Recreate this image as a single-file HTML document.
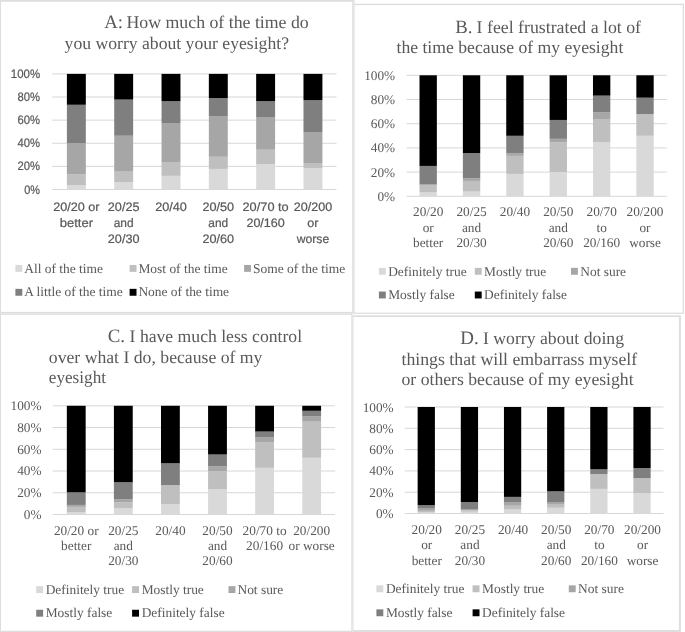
<!DOCTYPE html>
<html><head><meta charset="utf-8"><title>Charts</title>
<style>
html,body{margin:0;padding:0;background:#fff;}
svg{display:block;will-change:transform;}
text{fill:#595959;text-rendering:geometricPrecision;}
.se{font-family:"Liberation Serif", serif;}
.sa{font-family:"Liberation Sans", sans-serif;stroke:#595959;stroke-width:0.22px;}
</style></head><body>
<svg width="685" height="632" viewBox="0 0 685 632">
<rect width="685" height="632" fill="#fff"/>
<g id="A">
<rect x="0" y="0" width="353.40" height="313.40" fill="#DEDEDE"/>
<rect x="1.00" y="1.80" width="351.20" height="310.10" fill="#fff"/>
<text class="se" x="104.2" y="28.3" font-size="18.8">A:</text>
<text class="se" x="126.5" y="28.3" font-size="17.8">How much of the time do</text>
<text class="se" x="64.6" y="48.8" font-size="17.65">you worry about your eyesight?</text>
<line x1="52.3" x2="336.5" y1="73.90" y2="73.90" stroke="#D7D7D7" stroke-width="1"/>
<line x1="52.3" x2="336.5" y1="97.02" y2="97.02" stroke="#D7D7D7" stroke-width="1"/>
<line x1="52.3" x2="336.5" y1="120.14" y2="120.14" stroke="#D7D7D7" stroke-width="1"/>
<line x1="52.3" x2="336.5" y1="143.26" y2="143.26" stroke="#D7D7D7" stroke-width="1"/>
<line x1="52.3" x2="336.5" y1="166.38" y2="166.38" stroke="#D7D7D7" stroke-width="1"/>
<line x1="52.3" x2="336.5" y1="189.50" y2="189.50" stroke="#D7D7D7" stroke-width="1"/>
<rect x="66.89" y="185.22" width="18.93" height="4.28" fill="#D9D9D9"/>
<rect x="66.89" y="174.13" width="18.93" height="11.10" fill="#BFBFBF"/>
<rect x="66.89" y="143.26" width="18.93" height="30.87" fill="#A6A6A6"/>
<rect x="66.89" y="104.77" width="18.93" height="38.49" fill="#7F7F7F"/>
<rect x="66.89" y="73.90" width="18.93" height="30.87" fill="#000000"/>
<rect x="114.21" y="182.10" width="18.93" height="7.40" fill="#D9D9D9"/>
<rect x="114.21" y="171.00" width="18.93" height="11.10" fill="#BFBFBF"/>
<rect x="114.21" y="135.75" width="18.93" height="35.26" fill="#A6A6A6"/>
<rect x="114.21" y="99.56" width="18.93" height="36.18" fill="#7F7F7F"/>
<rect x="114.21" y="73.90" width="18.93" height="25.66" fill="#000000"/>
<rect x="161.53" y="175.86" width="18.93" height="13.64" fill="#D9D9D9"/>
<rect x="161.53" y="162.57" width="18.93" height="13.29" fill="#BFBFBF"/>
<rect x="161.53" y="123.03" width="18.93" height="39.54" fill="#A6A6A6"/>
<rect x="161.53" y="101.18" width="18.93" height="21.85" fill="#7F7F7F"/>
<rect x="161.53" y="73.90" width="18.93" height="27.28" fill="#000000"/>
<rect x="208.84" y="168.92" width="18.93" height="20.58" fill="#D9D9D9"/>
<rect x="208.84" y="156.79" width="18.93" height="12.14" fill="#BFBFBF"/>
<rect x="208.84" y="116.09" width="18.93" height="40.69" fill="#A6A6A6"/>
<rect x="208.84" y="98.06" width="18.93" height="18.03" fill="#7F7F7F"/>
<rect x="208.84" y="73.90" width="18.93" height="24.16" fill="#000000"/>
<rect x="256.16" y="164.18" width="18.93" height="25.32" fill="#D9D9D9"/>
<rect x="256.16" y="149.73" width="18.93" height="14.45" fill="#BFBFBF"/>
<rect x="256.16" y="117.02" width="18.93" height="32.71" fill="#A6A6A6"/>
<rect x="256.16" y="101.18" width="18.93" height="15.84" fill="#7F7F7F"/>
<rect x="256.16" y="73.90" width="18.93" height="27.28" fill="#000000"/>
<rect x="303.48" y="168.11" width="18.93" height="21.39" fill="#D9D9D9"/>
<rect x="303.48" y="163.03" width="18.93" height="5.09" fill="#BFBFBF"/>
<rect x="303.48" y="132.51" width="18.93" height="30.52" fill="#A6A6A6"/>
<rect x="303.48" y="100.14" width="18.93" height="32.37" fill="#7F7F7F"/>
<rect x="303.48" y="73.90" width="18.93" height="26.24" fill="#000000"/>
<text class="sa" x="40.1" y="77.90" font-size="12.3" text-anchor="end" textLength="29.31" lengthAdjust="spacingAndGlyphs">100%</text>
<text class="sa" x="40.1" y="101.02" font-size="12.3" text-anchor="end" textLength="22.55" lengthAdjust="spacingAndGlyphs">80%</text>
<text class="sa" x="40.1" y="124.14" font-size="12.3" text-anchor="end" textLength="22.55" lengthAdjust="spacingAndGlyphs">60%</text>
<text class="sa" x="40.1" y="147.26" font-size="12.3" text-anchor="end" textLength="22.55" lengthAdjust="spacingAndGlyphs">40%</text>
<text class="sa" x="40.1" y="170.38" font-size="12.3" text-anchor="end" textLength="22.55" lengthAdjust="spacingAndGlyphs">20%</text>
<text class="sa" x="40.1" y="193.50" font-size="12.3" text-anchor="end" textLength="15.79" lengthAdjust="spacingAndGlyphs">0%</text>
<text class="sa" x="76.36" y="210.70" font-size="12.3" text-anchor="middle" textLength="46.37" lengthAdjust="spacingAndGlyphs">20/20 or</text>
<text class="sa" x="76.36" y="226.80" font-size="12.3" text-anchor="middle" textLength="33.36" lengthAdjust="spacingAndGlyphs">better</text>
<text class="sa" x="123.68" y="210.70" font-size="12.3" text-anchor="middle" textLength="31.68" lengthAdjust="spacingAndGlyphs">20/25</text>
<text class="sa" x="123.68" y="226.80" font-size="12.3" text-anchor="middle" textLength="19.88" lengthAdjust="spacingAndGlyphs">and</text>
<text class="sa" x="123.68" y="242.90" font-size="12.3" text-anchor="middle" textLength="31.68" lengthAdjust="spacingAndGlyphs">20/30</text>
<text class="sa" x="170.99" y="210.70" font-size="12.3" text-anchor="middle" textLength="31.68" lengthAdjust="spacingAndGlyphs">20/40</text>
<text class="sa" x="218.31" y="210.70" font-size="12.3" text-anchor="middle" textLength="31.68" lengthAdjust="spacingAndGlyphs">20/50</text>
<text class="sa" x="218.31" y="226.80" font-size="12.3" text-anchor="middle" textLength="19.88" lengthAdjust="spacingAndGlyphs">and</text>
<text class="sa" x="218.31" y="242.90" font-size="12.3" text-anchor="middle" textLength="31.68" lengthAdjust="spacingAndGlyphs">20/60</text>
<text class="sa" x="265.62" y="210.70" font-size="12.3" text-anchor="middle" textLength="46.18" lengthAdjust="spacingAndGlyphs">20/70 to</text>
<text class="sa" x="265.62" y="226.80" font-size="12.3" text-anchor="middle" textLength="38.44" lengthAdjust="spacingAndGlyphs">20/160</text>
<text class="sa" x="312.94" y="210.70" font-size="12.3" text-anchor="middle" textLength="38.44" lengthAdjust="spacingAndGlyphs">20/200</text>
<text class="sa" x="312.94" y="226.80" font-size="12.3" text-anchor="middle" textLength="11.18" lengthAdjust="spacingAndGlyphs">or</text>
<text class="sa" x="312.94" y="242.90" font-size="12.3" text-anchor="middle" textLength="32.56" lengthAdjust="spacingAndGlyphs">worse</text>
<rect x="15.40" y="264.95" width="6.90" height="6.90" fill="#D9D9D9"/>
<text class="se" x="24.2" y="272.6" font-size="13.45">All of the time</text>
<rect x="129.60" y="264.95" width="6.90" height="6.90" fill="#BFBFBF"/>
<text class="se" x="138.4" y="272.6" font-size="13.45">Most of the time</text>
<rect x="244.10" y="264.95" width="6.90" height="6.90" fill="#A6A6A6"/>
<text class="se" x="253.0" y="272.6" font-size="13.45">Some of the time</text>
<rect x="15.40" y="288.85" width="6.90" height="6.90" fill="#7F7F7F"/>
<text class="se" x="24.2" y="296.4" font-size="13.45">A little of the time</text>
<rect x="129.60" y="288.85" width="6.90" height="6.90" fill="#000000"/>
<text class="se" x="138.4" y="296.4" font-size="13.45">None of the time</text>
</g>
<g id="C">
<rect x="0" y="313.4" width="352.50" height="318.60" fill="#DEDEDE"/>
<rect x="1.00" y="314.80" width="350.30" height="315.90" fill="#fff"/>
<text class="se" x="107.7" y="342.1" font-size="18.9">C.</text>
<text class="se" x="129.6" y="342.1" font-size="17.65">I have much less control</text>
<text class="se" x="48.8" y="362.9" font-size="17.7">over what I do, because of my</text>
<text class="se" x="48.8" y="383.2" font-size="17.65" textLength="57.2" lengthAdjust="spacingAndGlyphs">eyesight</text>
<line x1="52.7" x2="335.2" y1="405.80" y2="405.80" stroke="#D7D7D7" stroke-width="1"/>
<line x1="52.7" x2="335.2" y1="427.54" y2="427.54" stroke="#D7D7D7" stroke-width="1"/>
<line x1="52.7" x2="335.2" y1="449.28" y2="449.28" stroke="#D7D7D7" stroke-width="1"/>
<line x1="52.7" x2="335.2" y1="471.02" y2="471.02" stroke="#D7D7D7" stroke-width="1"/>
<line x1="52.7" x2="335.2" y1="492.76" y2="492.76" stroke="#D7D7D7" stroke-width="1"/>
<line x1="52.7" x2="335.2" y1="514.50" y2="514.50" stroke="#D7D7D7" stroke-width="1"/>
<rect x="66.83" y="512.00" width="18.83" height="2.50" fill="#D9D9D9"/>
<rect x="66.83" y="506.89" width="18.83" height="5.11" fill="#BFBFBF"/>
<rect x="66.83" y="504.93" width="18.83" height="1.96" fill="#A6A6A6"/>
<rect x="66.83" y="492.33" width="18.83" height="12.61" fill="#7F7F7F"/>
<rect x="66.83" y="405.80" width="18.83" height="86.53" fill="#000000"/>
<rect x="113.91" y="508.41" width="18.83" height="6.09" fill="#D9D9D9"/>
<rect x="113.91" y="502.43" width="18.83" height="5.98" fill="#BFBFBF"/>
<rect x="113.91" y="499.39" width="18.83" height="3.04" fill="#A6A6A6"/>
<rect x="113.91" y="482.22" width="18.83" height="17.17" fill="#7F7F7F"/>
<rect x="113.91" y="405.80" width="18.83" height="76.42" fill="#000000"/>
<rect x="160.99" y="504.39" width="18.83" height="10.11" fill="#D9D9D9"/>
<rect x="160.99" y="485.15" width="18.83" height="19.24" fill="#BFBFBF"/>
<rect x="160.99" y="463.30" width="18.83" height="21.85" fill="#7F7F7F"/>
<rect x="160.99" y="405.80" width="18.83" height="57.50" fill="#000000"/>
<rect x="208.08" y="489.28" width="18.83" height="25.22" fill="#D9D9D9"/>
<rect x="208.08" y="471.13" width="18.83" height="18.15" fill="#BFBFBF"/>
<rect x="208.08" y="466.13" width="18.83" height="5.00" fill="#A6A6A6"/>
<rect x="208.08" y="454.50" width="18.83" height="11.63" fill="#7F7F7F"/>
<rect x="208.08" y="405.80" width="18.83" height="48.70" fill="#000000"/>
<rect x="255.16" y="467.87" width="18.83" height="46.63" fill="#D9D9D9"/>
<rect x="255.16" y="442.11" width="18.83" height="25.76" fill="#BFBFBF"/>
<rect x="255.16" y="437.11" width="18.83" height="5.00" fill="#A6A6A6"/>
<rect x="255.16" y="431.56" width="18.83" height="5.54" fill="#7F7F7F"/>
<rect x="255.16" y="405.80" width="18.83" height="25.76" fill="#000000"/>
<rect x="302.24" y="457.76" width="18.83" height="56.74" fill="#D9D9D9"/>
<rect x="302.24" y="421.67" width="18.83" height="36.09" fill="#BFBFBF"/>
<rect x="302.24" y="416.13" width="18.83" height="5.54" fill="#A6A6A6"/>
<rect x="302.24" y="410.80" width="18.83" height="5.33" fill="#7F7F7F"/>
<rect x="302.24" y="405.80" width="18.83" height="5.00" fill="#000000"/>
<text class="se" x="41.6" y="410.10" font-size="13.3" text-anchor="end">100%</text>
<text class="se" x="41.6" y="431.84" font-size="13.3" text-anchor="end">80%</text>
<text class="se" x="41.6" y="453.58" font-size="13.3" text-anchor="end">60%</text>
<text class="se" x="41.6" y="475.32" font-size="13.3" text-anchor="end">40%</text>
<text class="se" x="41.6" y="497.06" font-size="13.3" text-anchor="end">20%</text>
<text class="se" x="41.6" y="518.80" font-size="13.3" text-anchor="end">0%</text>
<text class="se" x="76.24" y="534.60" font-size="13.3" text-anchor="middle">20/20 or</text>
<text class="se" x="76.24" y="549.90" font-size="13.3" text-anchor="middle">better</text>
<text class="se" x="123.33" y="534.60" font-size="13.3" text-anchor="middle">20/25</text>
<text class="se" x="123.33" y="549.90" font-size="13.3" text-anchor="middle">and</text>
<text class="se" x="123.33" y="565.20" font-size="13.3" text-anchor="middle">20/30</text>
<text class="se" x="170.41" y="534.60" font-size="13.3" text-anchor="middle">20/40</text>
<text class="se" x="217.49" y="534.60" font-size="13.3" text-anchor="middle">20/50</text>
<text class="se" x="217.49" y="549.90" font-size="13.3" text-anchor="middle">and</text>
<text class="se" x="217.49" y="565.20" font-size="13.3" text-anchor="middle">20/60</text>
<text class="se" x="264.57" y="534.60" font-size="13.3" text-anchor="middle">20/70 to</text>
<text class="se" x="264.57" y="549.90" font-size="13.3" text-anchor="middle">20/160</text>
<text class="se" x="311.66" y="534.60" font-size="13.3" text-anchor="middle">20/200</text>
<text class="se" x="311.66" y="549.90" font-size="13.3" text-anchor="middle">or worse</text>
<rect x="36.20" y="586.15" width="6.90" height="6.90" fill="#D9D9D9"/>
<text class="se" x="45.7" y="594.1" font-size="13.4">Definitely true</text>
<rect x="132.10" y="586.15" width="6.90" height="6.90" fill="#BFBFBF"/>
<text class="se" x="141.7" y="594.1" font-size="13.4">Mostly true</text>
<rect x="228.50" y="586.15" width="6.90" height="6.90" fill="#A6A6A6"/>
<text class="se" x="237.5" y="594.1" font-size="13.4">Not sure</text>
<rect x="36.20" y="609.75" width="6.90" height="6.90" fill="#7F7F7F"/>
<text class="se" x="45.7" y="617.4" font-size="13.4">Mostly false</text>
<rect x="132.10" y="609.75" width="6.90" height="6.90" fill="#000000"/>
<text class="se" x="141.7" y="617.4" font-size="13.4">Definitely false</text>
</g>
<g id="B">
<rect x="353.40" y="0.00" width="1.20" height="4.00" fill="#DEDEDE"/>
<rect x="353.4" y="3.7" width="330.60" height="310.20" fill="#DEDEDE"/>
<rect x="354.60" y="5.10" width="328.00" height="307.50" fill="#fff"/>
<text class="se" x="455.3" y="32.7" font-size="18.8">B.</text>
<text class="se" x="476.6" y="32.7" font-size="17.8">I feel frustrated a lot of</text>
<text class="se" x="396.5" y="52.6" font-size="17.65">the time because of my eyesight</text>
<line x1="406.5" x2="666.7" y1="75.30" y2="75.30" stroke="#D7D7D7" stroke-width="1"/>
<line x1="406.5" x2="666.7" y1="99.50" y2="99.50" stroke="#D7D7D7" stroke-width="1"/>
<line x1="406.5" x2="666.7" y1="123.70" y2="123.70" stroke="#D7D7D7" stroke-width="1"/>
<line x1="406.5" x2="666.7" y1="147.90" y2="147.90" stroke="#D7D7D7" stroke-width="1"/>
<line x1="406.5" x2="666.7" y1="172.10" y2="172.10" stroke="#D7D7D7" stroke-width="1"/>
<line x1="406.5" x2="666.7" y1="196.30" y2="196.30" stroke="#D7D7D7" stroke-width="1"/>
<rect x="419.51" y="192.31" width="17.35" height="3.99" fill="#D9D9D9"/>
<rect x="419.51" y="184.81" width="17.35" height="7.50" fill="#BFBFBF"/>
<rect x="419.51" y="184.56" width="17.35" height="0.24" fill="#A6A6A6"/>
<rect x="419.51" y="165.93" width="17.35" height="18.63" fill="#7F7F7F"/>
<rect x="419.51" y="75.30" width="17.35" height="90.63" fill="#000000"/>
<rect x="462.88" y="191.58" width="17.35" height="4.72" fill="#D9D9D9"/>
<rect x="462.88" y="180.93" width="17.35" height="10.65" fill="#BFBFBF"/>
<rect x="462.88" y="178.27" width="17.35" height="2.66" fill="#A6A6A6"/>
<rect x="462.88" y="153.10" width="17.35" height="25.17" fill="#7F7F7F"/>
<rect x="462.88" y="75.30" width="17.35" height="77.80" fill="#000000"/>
<rect x="506.24" y="173.92" width="17.35" height="22.38" fill="#D9D9D9"/>
<rect x="506.24" y="155.89" width="17.35" height="18.03" fill="#BFBFBF"/>
<rect x="506.24" y="153.34" width="17.35" height="2.54" fill="#A6A6A6"/>
<rect x="506.24" y="135.80" width="17.35" height="17.54" fill="#7F7F7F"/>
<rect x="506.24" y="75.30" width="17.35" height="60.50" fill="#000000"/>
<rect x="549.61" y="171.98" width="17.35" height="24.32" fill="#D9D9D9"/>
<rect x="549.61" y="142.33" width="17.35" height="29.65" fill="#BFBFBF"/>
<rect x="549.61" y="138.82" width="17.35" height="3.51" fill="#A6A6A6"/>
<rect x="549.61" y="119.95" width="17.35" height="18.88" fill="#7F7F7F"/>
<rect x="549.61" y="75.30" width="17.35" height="44.65" fill="#000000"/>
<rect x="592.98" y="142.09" width="17.35" height="54.21" fill="#D9D9D9"/>
<rect x="592.98" y="118.98" width="17.35" height="23.11" fill="#BFBFBF"/>
<rect x="592.98" y="112.45" width="17.35" height="6.53" fill="#A6A6A6"/>
<rect x="592.98" y="95.63" width="17.35" height="16.82" fill="#7F7F7F"/>
<rect x="592.98" y="75.30" width="17.35" height="20.33" fill="#000000"/>
<rect x="636.34" y="135.80" width="17.35" height="60.50" fill="#D9D9D9"/>
<rect x="636.34" y="114.02" width="17.35" height="21.78" fill="#BFBFBF"/>
<rect x="636.34" y="97.68" width="17.35" height="16.34" fill="#7F7F7F"/>
<rect x="636.34" y="75.30" width="17.35" height="22.38" fill="#000000"/>
<text class="se" x="395.2" y="79.80" font-size="13.3" text-anchor="end">100%</text>
<text class="se" x="395.2" y="104.00" font-size="13.3" text-anchor="end">80%</text>
<text class="se" x="395.2" y="128.20" font-size="13.3" text-anchor="end">60%</text>
<text class="se" x="395.2" y="152.40" font-size="13.3" text-anchor="end">40%</text>
<text class="se" x="395.2" y="176.60" font-size="13.3" text-anchor="end">20%</text>
<text class="se" x="395.2" y="200.80" font-size="13.3" text-anchor="end">0%</text>
<text class="se" x="428.18" y="216.10" font-size="13.3" text-anchor="middle">20/20</text>
<text class="se" x="428.18" y="231.50" font-size="13.3" text-anchor="middle">or</text>
<text class="se" x="428.18" y="246.90" font-size="13.3" text-anchor="middle">better</text>
<text class="se" x="471.55" y="216.10" font-size="13.3" text-anchor="middle">20/25</text>
<text class="se" x="471.55" y="231.50" font-size="13.3" text-anchor="middle">and</text>
<text class="se" x="471.55" y="246.90" font-size="13.3" text-anchor="middle">20/30</text>
<text class="se" x="514.92" y="216.10" font-size="13.3" text-anchor="middle">20/40</text>
<text class="se" x="558.28" y="216.10" font-size="13.3" text-anchor="middle">20/50</text>
<text class="se" x="558.28" y="231.50" font-size="13.3" text-anchor="middle">and</text>
<text class="se" x="558.28" y="246.90" font-size="13.3" text-anchor="middle">20/60</text>
<text class="se" x="601.65" y="216.10" font-size="13.3" text-anchor="middle">20/70</text>
<text class="se" x="601.65" y="231.50" font-size="13.3" text-anchor="middle">to</text>
<text class="se" x="601.65" y="246.90" font-size="13.3" text-anchor="middle">20/160</text>
<text class="se" x="645.02" y="216.10" font-size="13.3" text-anchor="middle">20/200</text>
<text class="se" x="645.02" y="231.50" font-size="13.3" text-anchor="middle">or</text>
<text class="se" x="645.02" y="246.90" font-size="13.3" text-anchor="middle">worse</text>
<rect x="378.90" y="267.85" width="6.90" height="6.90" fill="#D9D9D9"/>
<text class="se" x="388.2" y="275.8" font-size="13.4">Definitely true</text>
<rect x="474.80" y="267.85" width="6.90" height="6.90" fill="#BFBFBF"/>
<text class="se" x="484.1" y="275.8" font-size="13.4">Mostly true</text>
<rect x="571.00" y="267.85" width="6.90" height="6.90" fill="#A6A6A6"/>
<text class="se" x="580.3" y="275.8" font-size="13.4">Not sure</text>
<rect x="378.90" y="291.55" width="6.90" height="6.90" fill="#7F7F7F"/>
<text class="se" x="388.2" y="299.4" font-size="13.4">Mostly false</text>
<rect x="474.80" y="291.55" width="6.90" height="6.90" fill="#000000"/>
<text class="se" x="484.1" y="299.4" font-size="13.4">Definitely false</text>
</g>
<g id="D">
<rect x="352.5" y="315.3" width="328.40" height="316.70" fill="#DEDEDE"/>
<rect x="353.50" y="317.00" width="325.40" height="313.00" fill="#fff"/>
<text class="se" x="460.3" y="343.8" font-size="19.0">D.</text>
<text class="se" x="483.0" y="343.8" font-size="17.7">I worry about doing</text>
<text class="se" x="401.5" y="364.6" font-size="17.75">things that will embarrass myself</text>
<text class="se" x="401.5" y="384.7" font-size="17.68">or others because of my eyesight</text>
<line x1="404.7" x2="663.6" y1="407.00" y2="407.00" stroke="#D7D7D7" stroke-width="1"/>
<line x1="404.7" x2="663.6" y1="428.30" y2="428.30" stroke="#D7D7D7" stroke-width="1"/>
<line x1="404.7" x2="663.6" y1="449.60" y2="449.60" stroke="#D7D7D7" stroke-width="1"/>
<line x1="404.7" x2="663.6" y1="470.90" y2="470.90" stroke="#D7D7D7" stroke-width="1"/>
<line x1="404.7" x2="663.6" y1="492.20" y2="492.20" stroke="#D7D7D7" stroke-width="1"/>
<line x1="404.7" x2="663.6" y1="513.50" y2="513.50" stroke="#D7D7D7" stroke-width="1"/>
<rect x="417.64" y="512.43" width="17.26" height="1.07" fill="#D9D9D9"/>
<rect x="417.64" y="510.84" width="17.26" height="1.60" fill="#BFBFBF"/>
<rect x="417.64" y="508.60" width="17.26" height="2.24" fill="#A6A6A6"/>
<rect x="417.64" y="505.19" width="17.26" height="3.41" fill="#7F7F7F"/>
<rect x="417.64" y="407.00" width="17.26" height="98.19" fill="#000000"/>
<rect x="460.80" y="511.69" width="17.26" height="1.81" fill="#D9D9D9"/>
<rect x="460.80" y="510.20" width="17.26" height="1.49" fill="#BFBFBF"/>
<rect x="460.80" y="509.03" width="17.26" height="1.17" fill="#A6A6A6"/>
<rect x="460.80" y="502.00" width="17.26" height="7.03" fill="#7F7F7F"/>
<rect x="460.80" y="407.00" width="17.26" height="95.00" fill="#000000"/>
<rect x="503.95" y="509.45" width="17.26" height="4.05" fill="#D9D9D9"/>
<rect x="503.95" y="505.73" width="17.26" height="3.73" fill="#BFBFBF"/>
<rect x="503.95" y="502.00" width="17.26" height="3.73" fill="#A6A6A6"/>
<rect x="503.95" y="496.89" width="17.26" height="5.11" fill="#7F7F7F"/>
<rect x="503.95" y="407.00" width="17.26" height="89.89" fill="#000000"/>
<rect x="547.10" y="507.75" width="17.26" height="5.75" fill="#D9D9D9"/>
<rect x="547.10" y="504.66" width="17.26" height="3.09" fill="#BFBFBF"/>
<rect x="547.10" y="502.00" width="17.26" height="2.66" fill="#A6A6A6"/>
<rect x="547.10" y="491.35" width="17.26" height="10.65" fill="#7F7F7F"/>
<rect x="547.10" y="407.00" width="17.26" height="84.35" fill="#000000"/>
<rect x="590.25" y="488.90" width="17.26" height="24.60" fill="#D9D9D9"/>
<rect x="590.25" y="474.10" width="17.26" height="14.80" fill="#BFBFBF"/>
<rect x="590.25" y="469.30" width="17.26" height="4.79" fill="#7F7F7F"/>
<rect x="590.25" y="407.00" width="17.26" height="62.30" fill="#000000"/>
<rect x="633.40" y="493.37" width="17.26" height="20.13" fill="#D9D9D9"/>
<rect x="633.40" y="478.04" width="17.26" height="15.34" fill="#BFBFBF"/>
<rect x="633.40" y="468.02" width="17.26" height="10.01" fill="#7F7F7F"/>
<rect x="633.40" y="407.00" width="17.26" height="61.02" fill="#000000"/>
<text class="se" x="393.7" y="411.50" font-size="13.3" text-anchor="end">100%</text>
<text class="se" x="393.7" y="432.80" font-size="13.3" text-anchor="end">80%</text>
<text class="se" x="393.7" y="454.10" font-size="13.3" text-anchor="end">60%</text>
<text class="se" x="393.7" y="475.40" font-size="13.3" text-anchor="end">40%</text>
<text class="se" x="393.7" y="496.70" font-size="13.3" text-anchor="end">20%</text>
<text class="se" x="393.7" y="518.00" font-size="13.3" text-anchor="end">0%</text>
<text class="se" x="426.77" y="533.80" font-size="13.3" text-anchor="middle">20/20</text>
<text class="se" x="426.77" y="549.15" font-size="13.3" text-anchor="middle">or</text>
<text class="se" x="426.77" y="564.50" font-size="13.3" text-anchor="middle">better</text>
<text class="se" x="469.93" y="533.80" font-size="13.3" text-anchor="middle">20/25</text>
<text class="se" x="469.93" y="549.15" font-size="13.3" text-anchor="middle">and</text>
<text class="se" x="469.93" y="564.50" font-size="13.3" text-anchor="middle">20/30</text>
<text class="se" x="513.08" y="533.80" font-size="13.3" text-anchor="middle">20/40</text>
<text class="se" x="556.23" y="533.80" font-size="13.3" text-anchor="middle">20/50</text>
<text class="se" x="556.23" y="549.15" font-size="13.3" text-anchor="middle">and</text>
<text class="se" x="556.23" y="564.50" font-size="13.3" text-anchor="middle">20/60</text>
<text class="se" x="599.38" y="533.80" font-size="13.3" text-anchor="middle">20/70</text>
<text class="se" x="599.38" y="549.15" font-size="13.3" text-anchor="middle">to</text>
<text class="se" x="599.38" y="564.50" font-size="13.3" text-anchor="middle">20/160</text>
<text class="se" x="642.53" y="533.80" font-size="13.3" text-anchor="middle">20/200</text>
<text class="se" x="642.53" y="549.15" font-size="13.3" text-anchor="middle">or</text>
<text class="se" x="642.53" y="564.50" font-size="13.3" text-anchor="middle">worse</text>
<rect x="376.40" y="585.35" width="6.90" height="6.90" fill="#D9D9D9"/>
<text class="se" x="385.9" y="593.3" font-size="13.4">Definitely true</text>
<rect x="472.60" y="585.35" width="6.90" height="6.90" fill="#BFBFBF"/>
<text class="se" x="482.1" y="593.3" font-size="13.4">Mostly true</text>
<rect x="568.80" y="585.35" width="6.90" height="6.90" fill="#A6A6A6"/>
<text class="se" x="578.1" y="593.3" font-size="13.4">Not sure</text>
<rect x="376.40" y="609.35" width="6.90" height="6.90" fill="#7F7F7F"/>
<text class="se" x="385.9" y="617.0" font-size="13.4">Mostly false</text>
<rect x="472.60" y="609.35" width="6.90" height="6.90" fill="#000000"/>
<text class="se" x="482.1" y="617.0" font-size="13.4">Definitely false</text>
</g>
</svg>
</body></html>
